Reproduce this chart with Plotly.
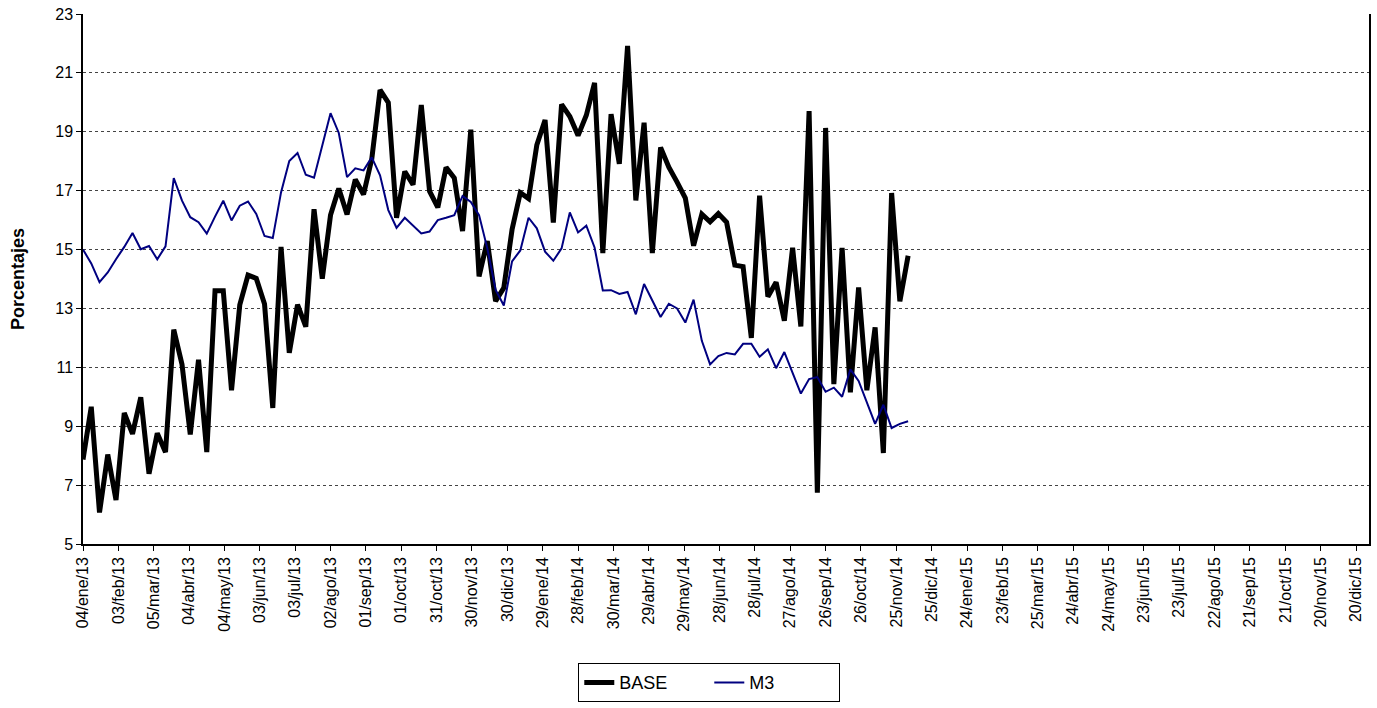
import pandas as pd
import plotly.graph_objects as go

start_date = "2013-01-04"

base = [7.87, 9.66, 6.07, 8.04, 6.49, 9.45, 8.74, 9.98, 7.39, 8.76,
        8.12, 12.28, 11.10, 8.72, 11.26, 8.12, 13.60, 13.60, 10.22, 13.12,
        14.13, 14.02, 13.15, 9.62, 15.09, 11.49, 13.13, 12.38, 16.37, 14.01,
        16.17, 17.07, 16.19, 17.38, 16.87, 18.08, 20.42, 19.99, 16.08, 17.65,
        17.20, 19.91, 16.98, 16.43, 17.79, 17.43, 15.63, 19.07, 14.09, 15.29,
        13.25, 13.70, 15.68, 16.93, 16.73, 18.55, 19.40, 15.92, 19.93, 19.52,
        18.87, 19.56, 20.66, 14.88, 19.60, 17.91, 21.92, 16.67, 19.31, 14.88,
        18.47, 17.80, 17.29, 16.75, 15.13, 16.20, 15.94, 16.22, 15.93, 14.47,
        14.42, 12.00, 16.83, 13.40, 13.89, 12.58, 15.06, 12.39, 19.70, 6.74,
        19.13, 10.43, 15.06, 10.15, 13.71, 10.22, 12.36, 8.09, 16.92, 13.24,
        14.79]

m3 = [15.00, 14.53, 13.89, 14.22, 14.67, 15.09, 15.56, 15.01, 15.12, 14.67,
      15.11, 17.43, 16.66, 16.10, 15.93, 15.54, 16.12, 16.66, 15.99, 16.49,
      16.63, 16.21, 15.46, 15.39, 16.94, 18.01, 18.28, 17.54, 17.44, 18.51,
      19.63, 18.96, 17.46, 17.76, 17.69, 18.13, 17.52, 16.34, 15.74, 16.08,
      15.81, 15.55, 15.61, 16.00, 16.08, 16.17, 16.82, 16.62, 16.17, 15.04,
      13.64, 13.10, 14.60, 14.97, 16.08, 15.72, 14.93, 14.62, 15.04, 16.26,
      15.58, 15.81, 15.07, 13.61, 13.62, 13.49, 13.56, 12.80, 13.83, 13.25,
      12.71, 13.16, 13.00, 12.52, 13.30, 11.90, 11.10, 11.38, 11.49, 11.44,
      11.80, 11.80, 11.36, 11.61, 10.97, 11.52, 10.82, 10.11, 10.60, 10.67,
      10.17, 10.31, 10.00, 10.93, 10.54, 9.81, 9.08, 9.73, 8.94, 9.08,
      9.17]

tick_labels = ["04/ene/13", "03/feb/13", "05/mar/13", "04/abr/13", "04/may/13",
               "03/jun/13", "03/jul/13", "02/ago/13", "01/sep/13", "01/oct/13",
               "31/oct/13", "30/nov/13", "30/dic/13", "29/ene/14", "28/feb/14",
               "30/mar/14", "29/abr/14", "29/may/14", "28/jun/14", "28/jul/14",
               "27/ago/14", "26/sep/14", "26/oct/14", "25/nov/14", "25/dic/14",
               "24/ene/15", "23/feb/15", "25/mar/15", "24/abr/15", "24/may/15",
               "23/jun/15", "23/jul/15", "22/ago/15", "21/sep/15", "21/oct/15",
               "20/nov/15", "20/dic/15"]

dates = pd.date_range(start_date, periods=len(base), freq="7D")
tick_vals = pd.date_range(start_date, periods=len(tick_labels), freq="30D")

FONT = "Liberation Sans, Arial, sans-serif"

fig = go.Figure()
fig.add_trace(go.Scatter(x=dates, y=base, mode="lines", name="BASE",
                         line=dict(color="#000000", width=5)))
fig.add_trace(go.Scatter(x=dates, y=m3, mode="lines", name="M3",
                         line=dict(color="#000080", width=2)))

fig.update_layout(
    width=1377, height=708,
    margin=dict(l=83, r=6, t=11, b=164),
    paper_bgcolor="white", plot_bgcolor="white",
    font=dict(family=FONT, size=16, color="#000000"),
    showlegend=True,
    legend=dict(orientation="h", x=0.487, xanchor="center", y=-0.225, yanchor="top",
                bordercolor="#000000", borderwidth=1, font=dict(size=18),
                bgcolor="white", entrywidth=85, entrywidthmode="pixels"),
    xaxis=dict(
        type="date", range=["2013-01-04", "2015-12-31"],
        tickmode="array", tickvals=tick_vals, ticktext=tick_labels,
        tickangle=-90, ticks="outside", ticklen=5, tickcolor="#000000",
        showline=True, linecolor="#000000", linewidth=1.5,
        showgrid=False, zeroline=False, tickfont=dict(size=16),
    ),
    yaxis=dict(
        range=[5, 23], tick0=5, dtick=2,
        ticks="outside", ticklen=5, tickcolor="#000000",
        showline=True, linecolor="#000000", linewidth=1.5, mirror=True,
        showgrid=True, gridcolor="#444444", gridwidth=1, griddash="dot",
        zeroline=False, tickfont=dict(size=16),
        title=dict(text="<b>Porcentajes</b>", font=dict(size=18), standoff=26),
    ),
)

fig.write_html("out.html", config={"displayModeBar": False},
               post_script="document.body.style.margin='0';")
